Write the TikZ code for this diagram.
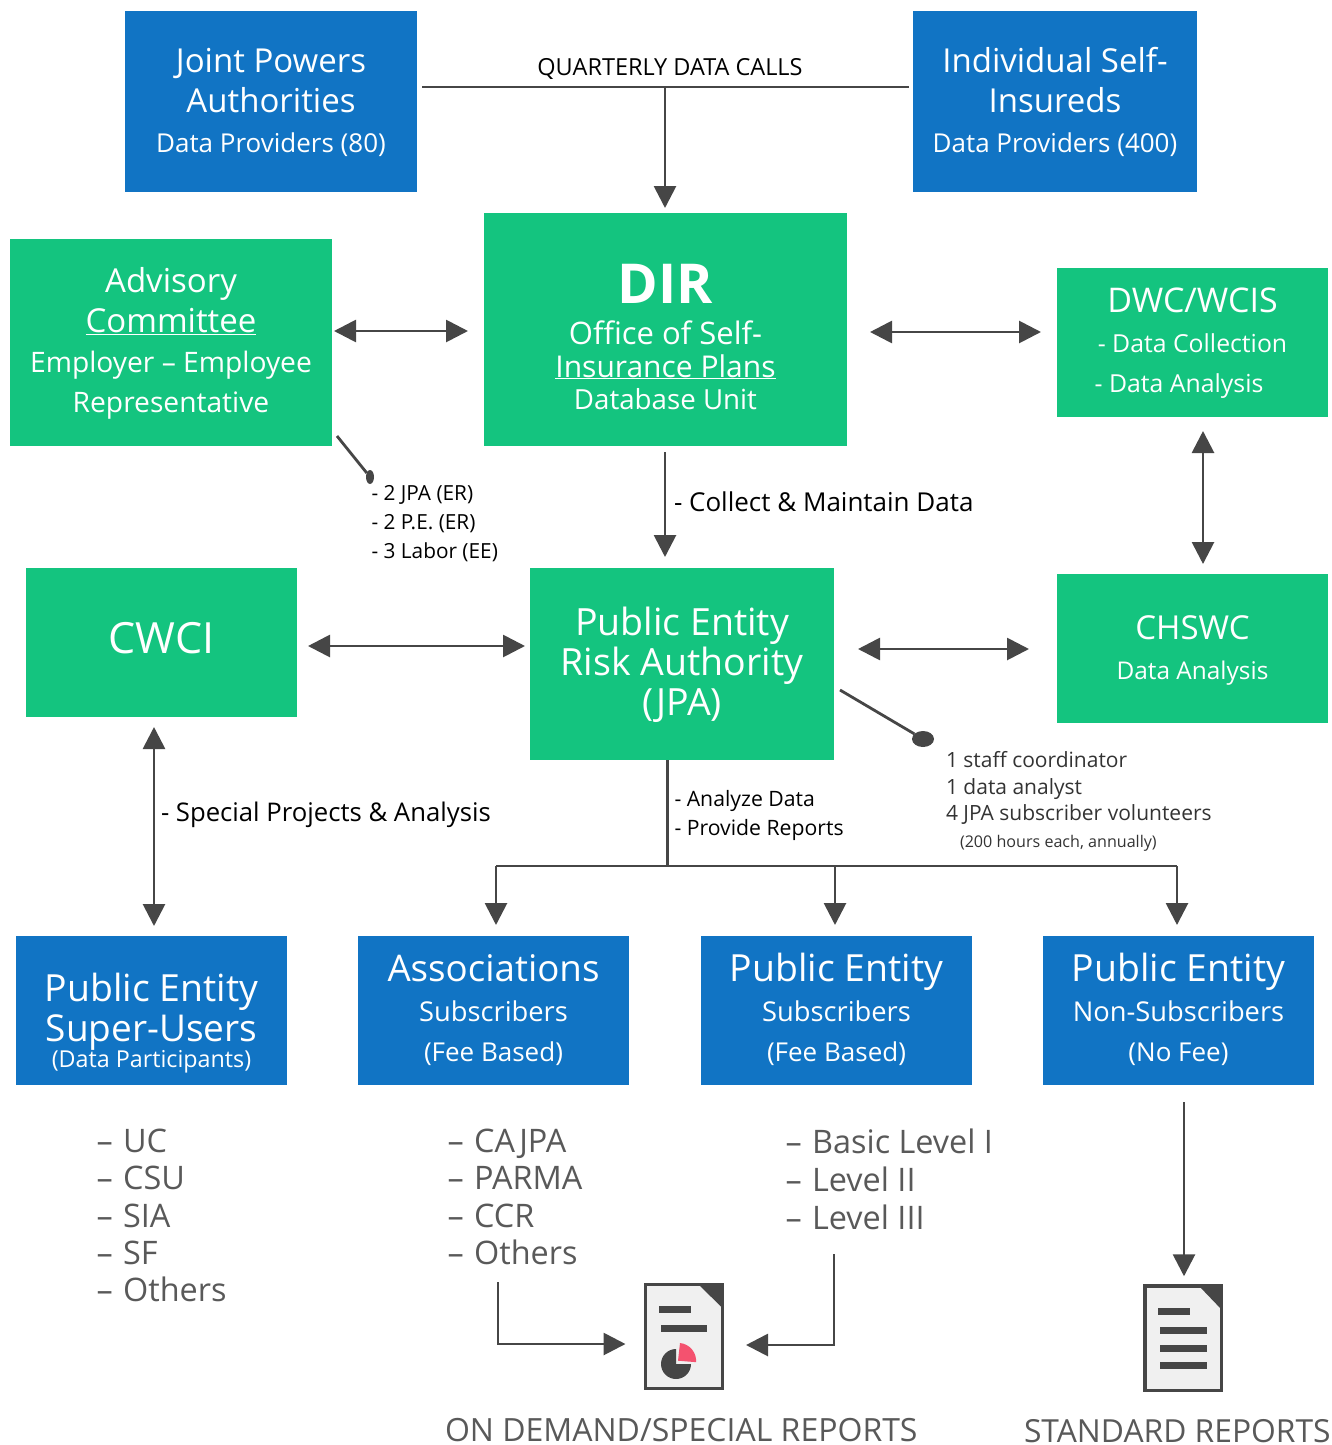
\documentclass[tikz,border=0pt]{standalone}
\usepackage{fontspec}
\setmainfont{Open Sans}
\usetikzlibrary{arrows.meta,shapes.geometric}
\definecolor{bluebox}{HTML}{1174C4}
\definecolor{greenbox}{HTML}{14C47F}
\definecolor{ink}{HTML}{464646}
\definecolor{listgray}{HTML}{595959}
\definecolor{notegray}{HTML}{333333}
\definecolor{pagefill}{HTML}{F0F0F0}
\definecolor{pink}{HTML}{F4526F}
\newcommand\Ln[3]{\makebox[0pt][c]{\smash{\raisebox{#1pt}{\fontsize{#2}{#2}\selectfont #3}}}}
\newcommand\LL[4][0]{\rlap{\hspace{#1pt}\smash{\raisebox{#2pt}{\fontsize{#3}{#3}\selectfont #4}}}}
\newcommand\Dash{–\kern2pt\ }
\tikzset{
  x=1pt,y=-1pt,
  box/.style={inner sep=0,outer sep=0,text=white},
  bluen/.style={box,fill=bluebox},
  greenn/.style={box,fill=greenbox},
  lbl/.style={inner sep=0,outer sep=0,anchor=base west},
  link/.style={draw=ink,line width=2.8pt},
  arr/.style={link,-{Triangle[length=22pt,width=22pt]}},
  dbl/.style={link,{Triangle[length=22pt,width=22pt]}-{Triangle[length=22pt,width=22pt]}},
  dotn/.style={ellipse,fill=ink,inner sep=0,outer sep=0},
  docn/.style={draw=ink,line width=3.5pt,fill=pagefill,inner sep=0,outer sep=1.75pt},
  bar/.style={fill=ink,draw=none}
}
\begin{document}
\begin{tikzpicture}
\useasboundingbox (0,0) rectangle (1332,1445);
% top row
\node[bluen,minimum width=292pt,minimum height=181pt] (jpa) at (271,101.5) {\Ln{29.5}{33}{Joint Powers}\Ln{-10.5}{33}{Authorities}\Ln{-50.5}{26}{Data Providers (80)}};
\node[bluen,minimum width=284pt,minimum height=181pt] (isi) at (1055,101.5) {\Ln{29.5}{33}{Individual Self-}\Ln{-10.5}{33}{Insureds}\Ln{-50.5}{26}{Data Providers (400)}};
% second row
\node[greenn,minimum width=363pt,minimum height=233pt] (dir) at (665.5,329.5) {\Ln{26.5}{55}{\bfseries DIR}\Ln{-14.5}{31}{Office of Self-}\Ln{-47.5}{30}{\underline{Insurance Plans}}\Ln{-79.5}{27.7}{Database Unit}};
\node[greenn,minimum width=322pt,minimum height=207pt] (adv) at (171,342.5) {\Ln{50.5}{33}{Advisory}\Ln{10.5}{33}{\underline{Committee}}\Ln{-29.5}{28.2}{Employer – Employee}\Ln{-69.5}{28.2}{Representative}};
\node[greenn,minimum width=271pt,minimum height=149pt] (dwc) at (1192.5,342.5) {\Ln{30.5}{34}{DWC/WCIS}\Ln{-9.5}{24.8}{- Data Collection}\Ln{-49.5}{24.8}{\kern-27pt - Data Analysis}};
% third row
\node[greenn,minimum width=271pt,minimum height=149pt] (cwci) at (161.5,642.5) {\Ln{-10.5}{43}{CWCI}};
\node[greenn,minimum width=304pt,minimum height=192pt] (pera) at (682,664) {\Ln{29}{37.5}{Public Entity}\Ln{-11}{37.5}{Risk Authority}\Ln{-51}{37.5}{(JPA)}};
\node[greenn,minimum width=271pt,minimum height=149pt] (chswc) at (1192.5,648.5) {\Ln{9.5}{33}{CHSWC}\Ln{-30.5}{24.4}{Data Analysis}};
% fourth row
\node[bluen,minimum width=271pt,minimum height=149pt] (sup) at (151.5,1010.5) {\Ln{9}{37.4}{Public Entity}\Ln{-31}{37}{Super-Users}\Ln{-56.5}{23.3}{(Data Participants)}};
\node[bluen,minimum width=271pt,minimum height=149pt] (assoc) at (493.5,1010.5) {\Ln{29}{36.7}{Associations}\Ln{-10.5}{27.3}{Subscribers}\Ln{-50.5}{26}{(Fee Based)}};
\node[bluen,minimum width=271pt,minimum height=149pt] (pes) at (836.5,1010.5) {\Ln{29}{37.4}{Public Entity}\Ln{-10.5}{27.3}{Subscribers}\Ln{-50.5}{26}{(Fee Based)}};
\node[bluen,minimum width=271pt,minimum height=149pt] (pen) at (1178.5,1010.5) {\Ln{29}{37.4}{Public Entity}\Ln{-10.5}{27.3}{Non-Subscribers}\Ln{-50.5}{26}{(No Fee)}};
% free labels
\node[lbl,anchor=base,text=black] (qdc) at (670,75) {\fontsize{23.5}{23.5}\selectfont QUARTERLY DATA CALLS};
\node[lbl,text=black] (advnote) at (371,500) {\LL{0}{20.8}{- 2 JPA (ER)}\LL{-29}{20.8}{- 2 P.E. (ER)}\LL{-58}{20.8}{- 3 Labor (EE)}};
\node[lbl,text=black] (collect) at (674,511) {\fontsize{26}{26}\selectfont - Collect \& Maintain Data};
\node[lbl,text=notegray] (staff) at (945.5,767) {\LL{0}{21}{1 staff coordinator}\LL{-27}{21}{1 data analyst}\LL{-53}{21}{4 JPA subscriber volunteers}\LL[14]{-80}{16.1}{(200 hours each, annually)}};
\node[lbl,text=black] (analyze) at (674,806) {\LL{0}{21.2}{- Analyze Data}\LL{-29}{21.2}{- Provide Reports}};
\node[lbl,text=black] (special) at (161,821.5) {\fontsize{25.7}{25.7}\selectfont - Special Projects \& Analysis};
\node[lbl,text=listgray] (list1) at (96,1152.5) {\LL{0}{32.4}{\Dash UC}\LL{-37}{32.4}{\Dash CSU}\LL{-75}{32.4}{\Dash SIA}\LL{-112}{32.4}{\Dash SF}\LL{-149}{32.4}{\Dash Others}};
\node[lbl,text=listgray] (list2) at (447,1152.5) {\LL{0}{32.4}{\Dash CAJPA}\LL{-37}{32.4}{\Dash PARMA}\LL{-75}{32.4}{\Dash CCR}\LL{-112}{32.4}{\Dash Others}};
\node[lbl,text=listgray] (list3) at (785,1153.5) {\LL{0}{32.4}{\Dash Basic Level I}\LL{-38}{32.4}{\Dash Level II}\LL{-76}{32.4}{\Dash Level III}};
\node[lbl,text=listgray] (ondemand) at (445,1441) {\fontsize{32}{32}\selectfont ON DEMAND/SPECIAL REPORTS};
\node[lbl,text=listgray] (standard) at (1024,1442) {\fontsize{31.8}{31.8}\selectfont STANDARD REPORTS};
% documents
\node[docn,minimum width=77pt,minimum height=104pt] (docA) at (683.75,1336.5) {};
\node[docn,minimum width=76.5pt,minimum height=104.5pt] (docB) at (1183.25,1338.25) {};
\fill[ink] (699,1285) -- (722.5,1285) -- (722.5,1308) -- cycle;
\fill[bar] (659,1306) rectangle (690.5,1313);
\fill[bar] (661,1325) rectangle (707,1332);
\fill[ink] (676,1349) arc[start angle=-90,delta angle=-270,x radius=15pt,y radius=-15pt] -- (676,1364) -- cycle;
\fill[pink] (678,1360.7) -- (680,1343) arc[start angle=84,end angle=-4,radius=18pt] -- cycle;
\fill[ink] (1199,1286) -- (1222,1286) -- (1222,1310) -- cycle;
\fill[bar] (1158,1308) rectangle (1190,1315);
\fill[bar] (1160,1327) rectangle (1206.5,1333.5);
\fill[bar] (1160,1345) rectangle (1206.5,1351.5);
\fill[bar] (1160,1362) rectangle (1206.5,1369);
% connectors
\coordinate (qc) at (665,87);
\coordinate (busL) at (496,866);
\coordinate (busR) at (1177,866);
\coordinate (busS) at (667.5,866);
\coordinate (busM) at (835,866);
\coordinate (othersEnd) at (498,1282);
\coordinate (othersKnee) at (498,1344);
\coordinate (levelEnd) at (834,1254);
\coordinate (levelKnee) at (834,1345);
\draw[link,shorten <=5pt,shorten >=4pt] ([yshift=14.5pt]jpa.east) -- ([yshift=14.5pt]isi.west);
\draw[arr,shorten >=5pt] (qc) -- ([xshift=-.5pt]dir.north);
\draw[dbl,shorten <=2pt,shorten >=16pt] ([yshift=11.5pt]adv.east) -- ([yshift=-1.5pt]dir.west);
\draw[dbl,shorten <=23pt,shorten >=16pt] ([yshift=-2.5pt]dir.east) -- ([yshift=10.5pt]dwc.west);
\draw[dbl,shorten <=14pt,shorten >=10pt] ([xshift=10.5pt]dwc.south) -- ([xshift=10.5pt]chswc.north);
\draw[arr,shorten <=6pt,shorten >=11pt] ([xshift=-.5pt]dir.south) -- ([xshift=-17pt]pera.north);
\draw[dbl,shorten <=11pt,shorten >=5pt] ([yshift=-3.5pt]cwci.east) -- ([yshift=18pt]pera.west);
\draw[dbl,shorten <=24pt,shorten >=28pt] ([yshift=15pt]pera.east) -- ([yshift=-.5pt]chswc.west);
\draw[dbl,shorten <=10pt,shorten >=10pt] ([xshift=-7.5pt]cwci.south) -- ([xshift=2.5pt]sup.north);
\draw[link] ([xshift=-14.5pt]pera.south) -- (busS);
\draw[link] (busL) -- (busR);
\draw[arr,shorten >=11pt] (busL) -- ([xshift=2.5pt]assoc.north);
\draw[arr,shorten >=11pt] (busM) -- ([xshift=-1.5pt]pes.north);
\draw[arr,shorten >=11pt] (busR) -- ([xshift=-1.5pt]pen.north);
\draw[arr,shorten <=17pt,shorten >=8pt] ([xshift=5.5pt]pen.south) -- ([xshift=.75pt]docB.north);
\draw[arr,shorten >=18pt] (othersEnd) -- (othersKnee) -- ([yshift=-7.5pt]docA.west);
\draw[arr,shorten >=22pt] (levelEnd) -- (levelKnee) -- ([yshift=-8.5pt]docA.east);
% lollipops
\node[dotn,minimum width=8pt,minimum height=14pt] (dotA) at (370,477) {};
\node[dotn,minimum width=22pt,minimum height=16pt] (dotB) at (923,739) {};
\draw[link] ([shift={(5pt,10pt)}]adv.south east) -- (dotA);
\draw[link] ([shift={(6pt,-26pt)}]pera.east) -- (dotB);
\end{tikzpicture}
\end{document}
